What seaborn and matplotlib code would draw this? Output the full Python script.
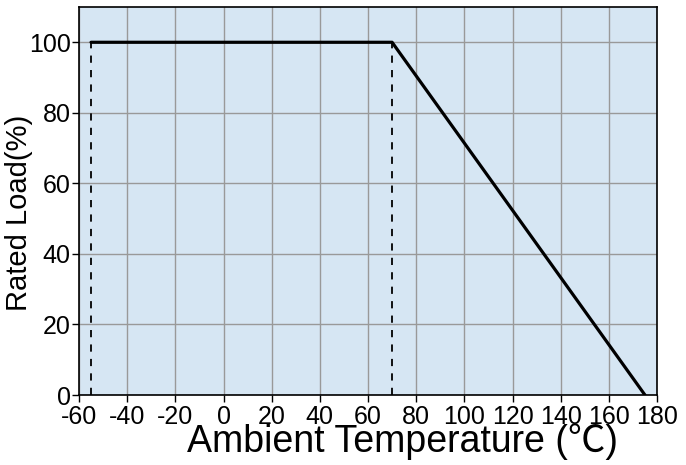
import matplotlib
matplotlib.use("Agg")
import matplotlib.pyplot as plt
import seaborn as sns
import pandas as pd

# derating curve
temp = [-55, 70, 175]
load = [100, 100, 0]
# dashed marker lines
mark_temp = [-55, 70]
xticks = [-60, -40, -20, 0, 20, 40, 60, 80, 100, 120, 140, 160, 180]
yticks = [0, 20, 40, 60, 80, 100]

sns.set_style("ticks")
plt.rcParams['font.family'] = ['Liberation Sans', 'Noto Sans CJK JP', 'DejaVu Sans']
plt.rcParams['text.color'] = 'black'
plt.rcParams['axes.labelcolor'] = 'black'

df = pd.DataFrame({"temp": temp, "load": load})

fig = plt.figure(figsize=(6.86, 4.65), dpi=100)
ax = fig.add_axes([79 / 686, 70 / 465, 578 / 686, 388 / 465])
ax.set_facecolor("#d6e6f3")

sns.lineplot(data=df, x="temp", y="load", ax=ax, color="black", linewidth=2.3,
             sort=False, zorder=5)
for t in mark_temp:
    ax.plot([t, t], [0, 100], color="black", linestyle=(0, (4, 4)), linewidth=1.3, zorder=4)

ax.set_xlim(-60, 180)
ax.set_ylim(0, 110)
ax.set_xticks(xticks)
ax.set_yticks(yticks)
ax.set_xticklabels([str(v) for v in xticks], fontsize=18)
ax.set_yticklabels([str(v) for v in yticks], fontsize=18)
ax.grid(True, color="#999999", linewidth=1)
ax.set_axisbelow(True)
ax.tick_params(axis="both", direction="out", length=5, width=1, pad=1,
               colors="black", labelcolor="black")
ax.tick_params(axis="x", pad=2)
for s in ax.spines.values():
    s.set_color("black")
    s.set_linewidth(1.2)

ax.set_xlabel("Ambient Temperature (℃)", fontsize=27, color="black")
ax.xaxis.set_label_coords(0.56, -0.074, transform=ax.transAxes)
ax.xaxis.label.set_va("top")
ax.set_ylabel("Rated Load(%)", fontsize=21, color="black")
ax.yaxis.set_label_coords(-0.104, 0.47, transform=ax.transAxes)
ax.yaxis.label.set_va("center")
ax.yaxis.label.set_ha("center")

fig.savefig("out.png", dpi=100)
